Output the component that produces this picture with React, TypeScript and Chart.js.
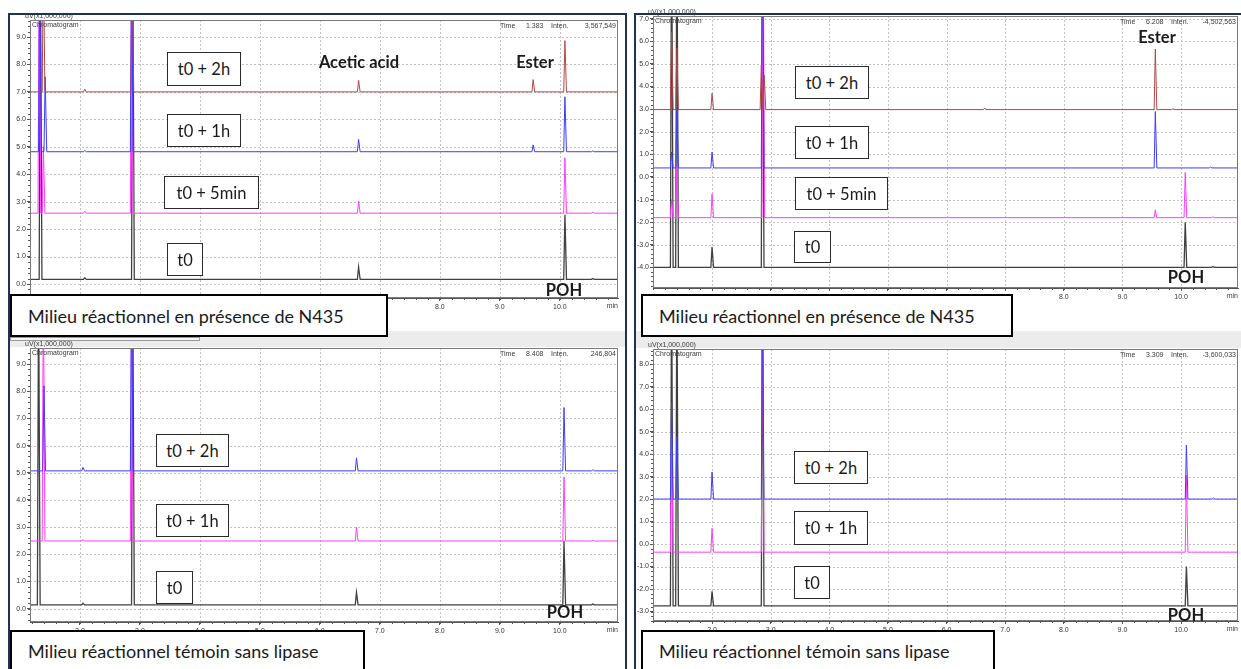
import React, { useEffect, useRef } from 'react';
import { Chart, registerables } from 'chart.js';

Chart.register(...registerables);

// ---------------- DATA ----------------
// retention time (min) / signal (uV x 1,000,000). Apex 12 = off-scale peak.
const X_TICKS = [2, 3, 4, 5, 6, 7, 8, 9, 10];
const Y_TICKS_TL = [0, 1, 2, 3, 4, 5, 6, 7, 8, 9];
const Y_TICKS_BL = [0, 1, 2, 3, 4, 5, 6, 7, 8, 9];
const Y_TICKS_TR = [-4, -3, -2, -1, 0, 1, 2, 3, 4, 5, 6, 7];
const Y_TICKS_BR = [-3, -2, -1, 0, 1, 2, 3, 4, 5, 6, 7, 8];

const LABELS_4 = ['t0 + 2h', 't0 + 1h', 't0 + 5min', 't0'];
const LABELS_3 = ['t0 + 2h', 't0 + 1h', 't0'];

// Top-left: Milieu réactionnel en présence de N435
const TL_BASELINES = [7.0, 4.82, 2.58, 0.17];
const TL_2H = [[1.39, 12], [2.08, 7.1], [2.87, 12], [6.645, 7.42], [9.555, 7.45], [10.085, 8.87]];
const TL_1H = [[1.33, 12], [1.42, 7.55], [2.08, 4.87], [2.86, 12], [6.645, 5.27], [9.555, 5.07], [10.085, 6.82], [10.55, 4.85]];
const TL_5MIN = [[1.32, 12], [1.39, 5.0], [2.08, 2.65], [2.86, 12], [6.645, 3.02], [10.085, 4.6], [10.55, 2.62]];
const TL_T0 = [[1.34, 12], [2.08, 0.23], [2.88, 12], [6.645, 0.62], [10.085, 2.52], [10.55, 0.2]];

// Top-right: Milieu réactionnel en présence de N435
const TR_BASELINES = [2.98, 0.4, -1.8, -4.0];
const TR_2H = [[1.31, 6.4], [1.4, 5.7], [2.0, 3.7], [2.84, 4.95], [2.89, 4.5], [6.65, 3.05], [9.56, 5.66], [9.86, 3.02]];
const TR_1H = [[1.31, 1.1], [1.4, 3.0], [2.0, 1.1], [2.86, 12], [9.56, 2.9], [10.5, 0.44]];
const TR_5MIN = [[1.31, -1.0], [1.4, 0.5], [2.0, -0.75], [2.87, 12], [9.56, -1.45], [10.07, 0.2], [10.54, -1.76]];
const TR_T0 = [[1.31, 12], [1.4, 12], [2.0, -3.1], [2.86, 12], [10.07, -2.0], [10.54, -3.96]];

// Bottom-left: Milieu réactionnel témoin sans lipase
const BL_BASELINES = [5.07, 2.49, 0.14];
const BL_2H = [[1.4, 8.2], [2.05, 5.2], [2.86, 12], [6.61, 5.55], [10.07, 7.4], [10.55, 5.11]];
const BL_1H = [[1.39, 12], [2.05, 2.55], [2.86, 12], [6.61, 3.0], [10.07, 4.85], [10.55, 2.52]];
const BL_T0 = [[1.31, 12], [2.05, 0.2], [2.88, 12], [6.61, 0.6], [10.07, 2.5], [10.55, 0.17]];

// Bottom-right: Milieu réactionnel témoin sans lipase
const BR_BASELINES = [2.0, -0.36, -2.75];
const BR_2H = [[1.31, 6.3], [1.4, 4.75], [2.0, 3.2], [2.86, 12], [10.09, 4.4], [10.55, 2.05]];
const BR_1H = [[1.31, 5.0], [2.0, 0.7], [2.86, 12], [10.09, 3.05]];
const BR_T0 = [[1.31, 12], [1.4, 12], [2.0, -2.1], [2.86, 12], [10.09, -1.0]];

const HEADER_TL = ['1.383', '3,567,549'];
const HEADER_TR = ['6.208', '-4,502,563'];
const HEADER_BL = ['8.408', '246,804'];
const HEADER_BR = ['3.309', '-3,600,033'];

const TITLE_A = 'Milieu réactionnel en présence de N435';
const TITLE_B = 'Milieu réactionnel témoin sans lipase';

// ---------------- STYLE / LAYOUT ----------------
const C_BROWN = '#b04848';
const C_BLUE = '#3c3cff';
const C_MAGENTA = '#ff3cff';
const C_BLACK = '#404040';
const NAVY = '#1f3252';
const FONT = 'Lato, "Open Sans", sans-serif';

const PAD_L = 30;
const PAD_T = 14;
const PAD_R = 3;
const PAD_B = 20;

type Panel = {
  plot: { l: number; t: number; r: number; b: number };
  x: [number, number];
  y: [number, number];
  yTicks: number[];
  header: string[];
  traces: { label: string; color: string; base: number; peaks: number[][] }[];
};

const PANELS: Panel[] = [
  {
    plot: { l: 30, t: 20, r: 618, b: 298 },
    x: [1.167, 10.97],
    y: [-0.51, 9.62],
    yTicks: Y_TICKS_TL,
    header: HEADER_TL,
    traces: [
      { label: LABELS_4[0], color: C_BROWN, base: TL_BASELINES[0], peaks: TL_2H },
      { label: LABELS_4[1], color: C_BLUE, base: TL_BASELINES[1], peaks: TL_1H },
      { label: LABELS_4[2], color: C_MAGENTA, base: TL_BASELINES[2], peaks: TL_5MIN },
      { label: LABELS_4[3], color: C_BLACK, base: TL_BASELINES[3], peaks: TL_T0 },
    ],
  },
  {
    plot: { l: 653, t: 16, r: 1238, b: 288 },
    x: [0.993, 10.97],
    y: [-4.91, 7.12],
    yTicks: Y_TICKS_TR,
    header: HEADER_TR,
    traces: [
      { label: LABELS_4[0], color: C_BROWN, base: TR_BASELINES[0], peaks: TR_2H },
      { label: LABELS_4[1], color: C_BLUE, base: TR_BASELINES[1], peaks: TR_1H },
      { label: LABELS_4[2], color: C_MAGENTA, base: TR_BASELINES[2], peaks: TR_5MIN },
      { label: LABELS_4[3], color: C_BLACK, base: TR_BASELINES[3], peaks: TR_T0 },
    ],
  },
  {
    plot: { l: 30, t: 348, r: 618, b: 622 },
    x: [1.167, 10.97],
    y: [-0.49, 9.59],
    yTicks: Y_TICKS_BL,
    header: HEADER_BL,
    traces: [
      { label: LABELS_3[0], color: C_BLUE, base: BL_BASELINES[0], peaks: BL_2H },
      { label: LABELS_3[1], color: C_MAGENTA, base: BL_BASELINES[1], peaks: BL_1H },
      { label: LABELS_3[2], color: C_BLACK, base: BL_BASELINES[2], peaks: BL_T0 },
    ],
  },
  {
    plot: { l: 653, t: 349, r: 1238, b: 621 },
    x: [0.993, 10.97],
    y: [-3.42, 8.67],
    yTicks: Y_TICKS_BR,
    header: HEADER_BR,
    traces: [
      { label: LABELS_3[0], color: C_BLUE, base: BR_BASELINES[0], peaks: BR_2H },
      { label: LABELS_3[1], color: C_MAGENTA, base: BR_BASELINES[1], peaks: BR_1H },
      { label: LABELS_3[2], color: C_BLACK, base: BR_BASELINES[2], peaks: BR_T0 },
    ],
  },
];

function buildPoints(base: number, peaks: number[][], xmin: number, xmax: number) {
  const pts: { x: number; y: number }[] = [{ x: xmin, y: base }];
  const sorted = [...peaks].sort((a, b) => a[0] - b[0]);
  for (const [rt, apex] of sorted) {
    pts.push({ x: rt - 0.02, y: base }, { x: rt, y: apex }, { x: rt + 0.026, y: base });
  }
  pts.push({ x: xmax, y: base });
  return pts;
}

const decor = {
  id: 'decor',
  beforeDatasetsDraw(chart: any, _args: any, o: any) {
    const { ctx, chartArea: a } = chart;
    const xs = chart.scales.x;
    const ys = chart.scales.y;
    ctx.save();
    ctx.strokeStyle = '#c2c2c2';
    ctx.lineWidth = 1;
    ctx.setLineDash([2, 2]);
    ctx.beginPath();
    for (const v of o.xTicks) {
      const p = Math.round(xs.getPixelForValue(v)) + 0.5;
      ctx.moveTo(p, a.top);
      ctx.lineTo(p, a.bottom);
    }
    for (const v of o.yTicks) {
      const p = Math.round(ys.getPixelForValue(v)) + 0.5;
      ctx.moveTo(a.left, p);
      ctx.lineTo(a.right, p);
    }
    ctx.stroke();
    ctx.restore();
  },
  afterDraw(chart: any, _args: any, o: any) {
    const { ctx, chartArea: a } = chart;
    const xs = chart.scales.x;
    const ys = chart.scales.y;
    ctx.save();
    ctx.strokeStyle = '#7a7a7a';
    ctx.lineWidth = 1;
    ctx.strokeRect(a.left + 0.5, a.top + 0.5, a.right - a.left - 1, a.bottom - a.top - 1);
    // minor ticks
    ctx.strokeStyle = '#555';
    ctx.beginPath();
    for (let i = Math.ceil(ys.min * 5); i <= Math.floor(ys.max * 5); i++) {
      const p = Math.round(ys.getPixelForValue(i / 5)) + 0.5;
      ctx.moveTo(a.left - 2, p);
      ctx.lineTo(a.left, p);
    }
    for (let i = Math.ceil(xs.min * 5); i <= Math.floor(xs.max * 5); i++) {
      const p = Math.round(xs.getPixelForValue(i / 5)) + 0.5;
      ctx.moveTo(p, a.bottom);
      ctx.lineTo(p, a.bottom + 2);
    }
    ctx.stroke();
    // texts
    ctx.fillStyle = '#3a3a3a';
    ctx.font = '7px "Liberation Sans", sans-serif';
    ctx.textBaseline = 'top';
    ctx.textAlign = 'left';
    ctx.fillText('Chromatogram', a.left + 2, a.top + 2);
    ctx.fillText('Time', a.right - 118, a.top + 3);
    ctx.fillText(o.header[0], a.right - 92, a.top + 3);
    ctx.fillText('Inten.', a.right - 67, a.top + 3);
    ctx.textAlign = 'right';
    ctx.fillText(o.header[1], a.right - 2, a.top + 3);
    ctx.textAlign = 'left';
    ctx.textBaseline = 'bottom';
    ctx.fillText('uV(x1,000,000)', a.left - 5, a.top);
    ctx.textBaseline = 'top';
    ctx.textAlign = 'right';
    ctx.fillText('min', a.right, a.bottom + 5);
    ctx.restore();
  },
};

function ChromPanel({ p }: { p: Panel }) {
  const ref = useRef<HTMLCanvasElement | null>(null);
  const W = p.plot.r - p.plot.l + PAD_L + PAD_R;
  const H = p.plot.b - p.plot.t + PAD_T + PAD_B;
  useEffect(() => {
    if (!ref.current) return;
    const tickFont = { size: 7, family: '"Liberation Sans", sans-serif' };
    const chart = new Chart(ref.current, {
      type: 'line',
      data: {
        datasets: p.traces.map((t) => ({
          label: t.label,
          data: buildPoints(t.base, t.peaks, p.x[0], p.x[1]),
          borderColor: t.color,
          borderWidth: t.color === C_BLACK ? 1.3 : 1,
          pointRadius: 0,
          tension: 0,
          fill: false,
        })),
      },
      options: {
        animation: false,
        responsive: false,
        maintainAspectRatio: false,
        layout: { padding: { left: 0, top: PAD_T, right: PAD_R, bottom: 0 } },
        plugins: {
          legend: { display: false },
          tooltip: { enabled: false },
          decor: { xTicks: X_TICKS, yTicks: p.yTicks, header: p.header },
        } as any,
        scales: {
          x: {
            type: 'linear',
            min: p.x[0],
            max: p.x[1],
            afterFit: (s: any) => {
              s.height = PAD_B;
            },
            afterBuildTicks: (s: any) => {
              s.ticks = X_TICKS.map((v) => ({ value: v }));
            },
            grid: { drawOnChartArea: false, tickLength: 3, color: '#555' },
            border: { color: '#555' },
            ticks: {
              font: tickFont,
              color: '#333',
              padding: 2,
              maxRotation: 0,
              autoSkip: false,
              callback: (v: any) => Number(v).toFixed(1),
            },
          },
          y: {
            type: 'linear',
            min: p.y[0],
            max: p.y[1],
            afterFit: (s: any) => {
              s.width = PAD_L;
            },
            afterBuildTicks: (s: any) => {
              s.ticks = p.yTicks.map((v) => ({ value: v }));
            },
            grid: { drawOnChartArea: false, tickLength: 3, color: '#555' },
            border: { color: '#555' },
            ticks: {
              font: tickFont,
              color: '#333',
              padding: 1,
              autoSkip: false,
              callback: (v: any) => Number(v).toFixed(1),
            },
          },
        },
      },
      plugins: [decor],
    } as any);
    return () => chart.destroy();
  }, [p]);
  return (
    <canvas
      ref={ref}
      width={W}
      height={H}
      style={{ position: 'absolute', left: p.plot.l - PAD_L, top: p.plot.t - PAD_T, width: W, height: H }}
    />
  );
}

function LabelBox({ x, y, w, h, text }: { x: number; y: number; w: number; h: number; text: string }) {
  return (
    <div
      style={{
        position: 'absolute',
        left: x,
        top: y,
        width: w,
        height: h,
        boxSizing: 'border-box',
        border: '1.5px solid #2a2a2a',
        background: '#fff',
        display: 'flex',
        alignItems: 'center',
        justifyContent: 'center',
        font: `16.5px ${FONT}`,
        color: '#1a1a1a',
        whiteSpace: 'nowrap',
      }}
    >
      {text}
    </div>
  );
}

function BoldText({ cx, cy, text }: { cx: number; cy: number; text: string }) {
  return (
    <div
      style={{
        position: 'absolute',
        left: cx - 60,
        top: cy - 11,
        width: 120,
        height: 22,
        lineHeight: '22px',
        textAlign: 'center',
        font: `bold 16.5px ${FONT}`,
        color: '#1a1a1a',
        whiteSpace: 'nowrap',
      }}
    >
      {text}
    </div>
  );
}

function TitleBox({ x, y, w, h, text }: { x: number; y: number; w: number; h: number; text: string }) {
  return (
    <div
      style={{
        position: 'absolute',
        left: x,
        top: y,
        width: w,
        height: h,
        boxSizing: 'border-box',
        border: '2px solid #000',
        background: '#fff',
        display: 'flex',
        alignItems: 'center',
        paddingLeft: 16,
        font: `18px ${FONT}`,
        color: '#1a1a1a',
        whiteSpace: 'nowrap',
      }}
    >
      {text}
    </div>
  );
}

function Rect({ x, y, w, h, c }: { x: number; y: number; w: number; h: number; c: string }) {
  return <div style={{ position: 'absolute', left: x, top: y, width: w, height: h, background: c }} />;
}

export default function App() {
  return (
    <div
      style={{
        position: 'fixed',
        left: 0,
        top: 0,
        width: 1241,
        height: 669,
        background: '#fff',
        overflow: 'hidden',
      }}
    >
      {/* separator band between upper and lower screenshots */}
      <Rect x={10} y={331} w={615} h={16} c="#ececec" />
      <Rect x={636} y={331} w={605} h={17} c="#ececec" />
      <div
        style={{
          position: 'absolute',
          left: 10,
          top: 337,
          width: 190,
          height: 4,
          border: '1px solid #9a9a9a',
          boxSizing: 'border-box',
          background: '#f6f6f6',
        }}
      />

      {PANELS.map((p, i) => (
        <ChromPanel key={i} p={p} />
      ))}

      {/* navy frames */}
      <Rect x={8} y={13} w={619} h={2} c={NAVY} />
      <Rect x={8} y={13} w={2} h={656} c={NAVY} />
      <Rect x={625} y={13} w={2} h={656} c={NAVY} />
      <Rect x={634} y={13} w={607} h={2} c={NAVY} />
      <Rect x={634} y={13} w={2} h={656} c={NAVY} />

      {/* top-left annotations */}
      <LabelBox x={167} y={52} w={74} h={34} text={LABELS_4[0]} />
      <LabelBox x={167} y={114} w={74} h={33} text={LABELS_4[1]} />
      <LabelBox x={164} y={176} w={95} h={33} text={LABELS_4[2]} />
      <LabelBox x={167} y={243} w={36} h={33} text={LABELS_4[3]} />
      <BoldText cx={359} cy={63} text="Acetic acid" />
      <BoldText cx={535} cy={63} text="Ester" />
      <BoldText cx={564} cy={291} text="POH" />
      <TitleBox x={10} y={294} w={378} h={43} text={TITLE_A} />

      {/* top-right annotations */}
      <LabelBox x={795} y={66} w={74} h={33} text={LABELS_4[0]} />
      <LabelBox x={795} y={126} w={74} h={33} text={LABELS_4[1]} />
      <LabelBox x={795} y={177} w={93} h={33} text={LABELS_4[2]} />
      <LabelBox x={794} y={231} w={37} h={32} text={LABELS_4[3]} />
      <BoldText cx={1157} cy={38} text="Ester" />
      <BoldText cx={1186} cy={278} text="POH" />
      <TitleBox x={641} y={294} w={372} h={43} text={TITLE_A} />

      {/* bottom-left annotations */}
      <LabelBox x={156} y={434} w={73} h={33} text={LABELS_3[0]} />
      <LabelBox x={156} y={504} w={73} h={33} text={LABELS_3[1]} />
      <LabelBox x={156} y={571} w={37} h={33} text={LABELS_3[2]} />
      <BoldText cx={565} cy={613} text="POH" />
      <TitleBox x={10} y={630} w={355} h={41} text={TITLE_B} />

      {/* bottom-right annotations */}
      <LabelBox x={794} y={451} w={74} h={33} text={LABELS_3[0]} />
      <LabelBox x={794} y={511} w={74} h={34} text={LABELS_3[1]} />
      <LabelBox x={794} y={566} w={36} h={33} text={LABELS_3[2]} />
      <BoldText cx={1186} cy={616} text="POH" />
      <TitleBox x={641} y={630} w={354} h={41} text={TITLE_B} />
    </div>
  );
}
